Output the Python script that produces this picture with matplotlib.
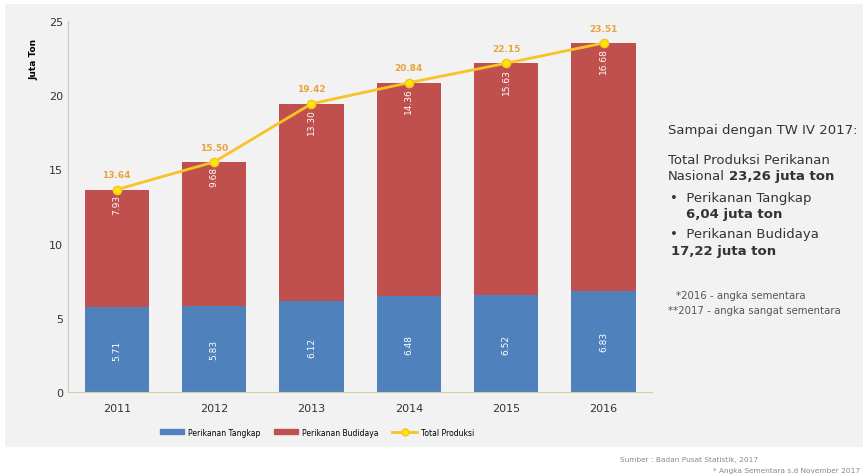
import numpy as np
import matplotlib
matplotlib.use('Agg')
import matplotlib.pyplot as plt
from matplotlib.patches import Rectangle
from matplotlib.lines import Line2D
from matplotlib.patches import Patch

years = ['2011', '2012', '2013', '2014', '2015', '2016']
tangkap = [5.71, 5.83, 6.12, 6.48, 6.52, 6.83]
budidaya = [7.93, 9.68, 13.30, 14.36, 15.63, 16.68]
total = [13.64, 15.50, 19.42, 20.84, 22.15, 23.51]

blue = '#4f81bd'
red = '#c0504d'
gold = '#f7c325'
bg = '#f2f2f2'

fig = plt.figure(figsize=(8.63, 4.77), dpi=100)
fig.patch.set_facecolor('white')
fig.patches.append(Rectangle((0.006, 0.061), 0.994, 0.929, transform=fig.transFigure,
                             facecolor=bg, edgecolor='none', zorder=-10))

ax = fig.add_axes([0.0788, 0.176, 0.677, 0.778])
ax.set_facecolor(bg)
x = np.arange(len(years))
w = 0.66
ax.bar(x, tangkap, w, color=blue, zorder=2)
ax.bar(x, budidaya, w, bottom=tangkap, color=red, zorder=2)
ax.plot(x, total, color=gold, lw=2, marker='o', ms=6, mfc='#ffe600', mec=gold, zorder=3)

for i in range(len(years)):
    ax.text(x[i], tangkap[i] / 2, f'{tangkap[i]:.2f}', rotation=90, ha='center', va='center',
            color='white', fontsize=6.5)
    ax.text(x[i], tangkap[i] + budidaya[i] - 0.3, f'{budidaya[i]:.2f}', rotation=90, ha='center',
            va='top', color='white', fontsize=6.5)
    ax.text(x[i], total[i] + 0.7, f'{total[i]:.2f}', ha='center', va='bottom',
            color='#e8a33a', fontsize=6.5, fontweight='bold')

ax.set_xlim(-0.5, 5.5)
ax.set_ylim(0, 25)
ax.set_yticks([0, 5, 10, 15, 20, 25])
ax.set_xticks(x)
ax.set_xticklabels(years)
ax.tick_params(axis='both', length=0, labelsize=8, colors='#333333')
ax.tick_params(axis='x', pad=8)
for s in ['top', 'right']:
    ax.spines[s].set_visible(False)
ax.spines['left'].set_color('#c8c8c8')
ax.spines['bottom'].set_color('#d9c9a8')
ax.set_ylabel('Juta Ton', fontsize=6.5, fontweight='bold', labelpad=8)
ax.yaxis.set_label_coords(-0.05, 0.9)

handles = [Patch(color=blue, label='Perikanan Tangkap'),
           Patch(color=red, label='Perikanan Budidaya'),
           Line2D([0], [0], color=gold, lw=2, marker='o', ms=5, mfc='#ffe600', mec=gold,
                  label='Total Produksi')]
fig.legend(handles=handles, loc='center', bbox_to_anchor=(0.367, 0.092), ncol=3, frameon=False,
           fontsize=5.5, handlelength=3.2, handleheight=0.6, columnspacing=1.8, handletextpad=0.5)

tc = '#333333'
fig.text(0.774, 0.727, 'Sampai dengan TW IV 2017:', fontsize=9.5, color=tc, va='center')
fig.text(0.774, 0.664, 'Total Produksi Perikanan', fontsize=9.5, color=tc, va='center')
t = fig.text(0.774, 0.631, 'Nasional', fontsize=9.5, color=tc, va='center')
fig.canvas.draw()
bb = t.get_window_extent().transformed(fig.transFigure.inverted())
fig.text(bb.x1 + 0.005, 0.631, '23,26 juta ton', fontsize=9.5, color=tc, va='center', fontweight='bold')
fig.text(0.776, 0.583, '•  Perikanan Tangkap', fontsize=9.5, color=tc, va='center')
fig.text(0.795, 0.550, '6,04 juta ton', fontsize=9.5, color=tc, va='center', fontweight='bold')
fig.text(0.776, 0.508, '•  Perikanan Budidaya', fontsize=9.5, color=tc, va='center')
fig.text(0.777, 0.472, '17,22 juta ton', fontsize=9.5, color=tc, va='center', fontweight='bold')
fig.text(0.783, 0.379, '*2016 - angka sementara', fontsize=7.3, color='#555555', va='center')
fig.text(0.774, 0.348, '**2017 - angka sangat sementara', fontsize=7.3, color='#555555', va='center')

fig.text(0.718, 0.036, 'Sumber : Badan Pusat Statistik, 2017', fontsize=5.3, color='#888888', va='center')
fig.text(0.997, 0.013, '* Angka Sementara s.d November 2017', fontsize=5.3, color='#888888',
         va='center', ha='right')

fig.savefig('out.png', dpi=100, facecolor=fig.get_facecolor())
